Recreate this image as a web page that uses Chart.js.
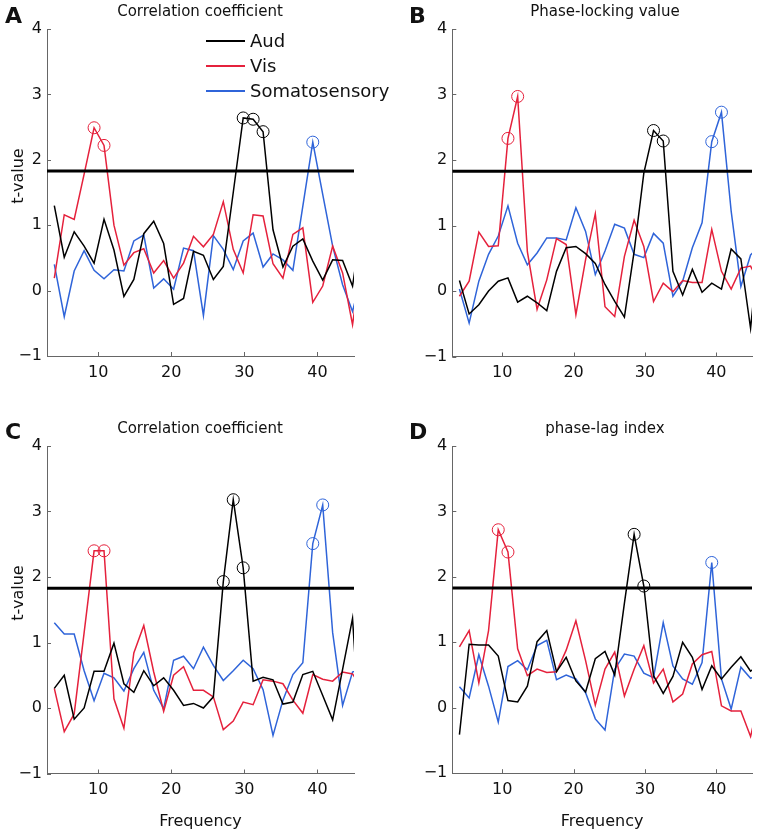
<!DOCTYPE html>
<html>
<head>
<meta charset="utf-8">
<script src="https://cdn.jsdelivr.net/npm/chart.js@4.4.0/dist/chart.umd.min.js"></script>
<style>
body { margin: 0; background: #fff; }
#page { position: relative; width: 759px; height: 835px; overflow: hidden; font-family: "DejaVu Sans", sans-serif; color: #111; }
.pane { position: absolute; }
.txt { position: absolute; white-space: nowrap; line-height: 1; }
.letter { font-weight: bold; font-size: 22px; }
.title { font-size: 15px; width: 300px; text-align: center; }
.ylab { font-size: 16px; transform: translate(-50%, -50%) rotate(-90deg); }
.leg { position: absolute; left: 206px; font-size: 18px; line-height: 1; white-space: nowrap; }
.leg span { display: inline-block; width: 39px; height: 2px; vertical-align: middle; margin-right: 5px; position: relative; top: -1px; }
</style>
</head>
<body>
<div id="page">
  <div class="pane" style="left:0;top:0"><canvas id="chartA" width="400" height="415"></canvas></div>
  <div class="pane" style="left:400px;top:0"><canvas id="chartB" width="359" height="415"></canvas></div>
  <div class="pane" style="left:0;top:415px"><canvas id="chartC" width="400" height="420"></canvas></div>
  <div class="pane" style="left:400px;top:415px"><canvas id="chartD" width="359" height="420"></canvas></div>

  <div class="txt letter" style="left:5px;top:5px">A</div>
  <div class="txt letter" style="left:409px;top:5px">B</div>
  <div class="txt letter" style="left:5px;top:421px">C</div>
  <div class="txt letter" style="left:409px;top:421px">D</div>

  <div class="txt title" style="left:50px;top:4px">Correlation coefficient</div>
  <div class="txt title" style="left:455px;top:4px">Phase-locking value</div>
  <div class="txt title" style="left:50px;top:421px">Correlation coefficient</div>
  <div class="txt title" style="left:455px;top:421px">phase-lag index</div>

  <div class="txt ylab" style="left:18px;top:176px">t-value</div>
  <div class="txt ylab" style="left:18px;top:593px">t-value</div>

  <div class="leg" style="top:32px"><span style="background:#000"></span>Aud</div>
  <div class="leg" style="top:57px"><span style="background:#e5213c"></span>Vis</div>
  <div class="leg" style="top:82px"><span style="background:#2f64d9"></span>Somatosensory</div>
</div>
<script>
// frequency of each bin (Hz); the last bin lies past the axis end and is clipped
var freqs = [4.00, 5.36, 6.72, 8.08, 9.44, 10.80, 12.16, 13.52, 14.88, 16.24, 17.60, 18.96, 20.32, 21.68, 23.04, 24.40,
             25.76, 27.12, 28.48, 29.84, 31.20, 32.56, 33.92, 35.28, 36.64, 38.00, 39.36, 40.72, 42.08, 43.44, 44.80, 46.16];
var xTicks = [10, 20, 30, 40];
var yTicks = [-1, 0, 1, 2, 3, 4];
var threshold = 1.83;

// A - correlation coefficient
var audA = [1.30, 0.51, 0.90, 0.68, 0.42, 1.09, 0.62, -0.09, 0.17, 0.87, 1.06, 0.72, -0.21, -0.12, 0.60, 0.54,
            0.17, 0.37, 1.50, 2.64, 2.62, 2.43, 0.93, 0.36, 0.68, 0.79, 0.45, 0.16, 0.47, 0.46, 0.07, 1.10];
var visA = [0.19, 1.16, 1.09, 1.78, 2.49, 2.22, 1.00, 0.39, 0.58, 0.64, 0.27, 0.46, 0.19, 0.42, 0.83, 0.67,
            0.86, 1.36, 0.63, 0.27, 1.16, 1.14, 0.41, 0.19, 0.86, 0.96, -0.18, 0.07, 0.68, 0.27, -0.52, 0.55];
var somA = [0.40, -0.40, 0.30, 0.61, 0.31, 0.18, 0.32, 0.30, 0.76, 0.85, 0.04, 0.18, 0.02, 0.65, 0.61, -0.38,
            0.84, 0.63, 0.32, 0.76, 0.88, 0.36, 0.56, 0.47, 0.31, 1.29, 2.27, 1.47, 0.68, 0.09, -0.32, 0.30];
var audSigA = [19, 20, 21], visSigA = [4, 5], somSigA = [26];

// B - phase-locking value
var audB = [0.16, -0.35, -0.21, 0.00, 0.15, 0.20, -0.17, -0.08, -0.18, -0.30, 0.30, 0.66, 0.68, 0.57, 0.42, 0.10,
            -0.16, -0.40, 0.60, 1.80, 2.45, 2.29, 0.30, -0.06, 0.33, -0.02, 0.12, 0.03, 0.64, 0.49, -0.57, 0.90];
var visB = [-0.08, 0.15, 0.90, 0.68, 0.69, 2.33, 2.97, 0.60, -0.28, 0.17, 0.80, 0.71, -0.36, 0.48, 1.18, -0.24,
            -0.39, 0.53, 1.08, 0.68, -0.16, 0.12, -0.01, 0.16, 0.13, 0.13, 0.94, 0.30, 0.03, 0.35, 0.38, 0.10];
var somB = [0.03, -0.49, 0.15, 0.56, 0.84, 1.30, 0.73, 0.40, 0.58, 0.81, 0.81, 0.78, 1.27, 0.91, 0.25, 0.61,
            1.02, 0.96, 0.56, 0.51, 0.88, 0.73, -0.08, 0.15, 0.66, 1.04, 2.28, 2.73, 1.22, 0.07, 0.55, 0.70];
var audSigB = [20, 21], visSigB = [5, 6], somSigB = [26, 27];

// C - correlation coefficient
var audC = [0.30, 0.50, -0.17, 0.00, 0.56, 0.56, 0.99, 0.37, 0.24, 0.57, 0.34, 0.46, 0.27, 0.04, 0.07, 0.00,
            0.17, 1.93, 3.18, 2.14, 0.41, 0.47, 0.43, 0.06, 0.09, 0.51, 0.56, 0.19, -0.18, 0.59, 1.37, -1.00];
var visC = [0.30, -0.36, -0.09, 1.15, 2.40, 2.40, 0.14, -0.31, 0.84, 1.26, 0.55, -0.05, 0.50, 0.63, 0.27, 0.27,
            0.17, -0.33, -0.20, 0.09, 0.05, 0.43, 0.41, 0.37, 0.12, -0.08, 0.51, 0.44, 0.41, 0.55, 0.52, 0.30];
var somC = [1.30, 1.13, 1.13, 0.57, 0.11, 0.53, 0.46, 0.26, 0.60, 0.85, 0.27, -0.01, 0.73, 0.79, 0.60, 0.93,
            0.65, 0.42, 0.57, 0.73, 0.60, 0.28, -0.42, 0.12, 0.51, 0.69, 2.51, 3.10, 1.15, 0.04, 0.55, 0.60];
var audSigC = [17, 18, 19], visSigC = [4, 5], somSigC = [26, 27];

// D - phase-lag index
var audD = [-0.41, 0.97, 0.96, 0.96, 0.79, 0.11, 0.09, 0.33, 1.01, 1.18, 0.55, 0.77, 0.41, 0.24, 0.75, 0.86,
            0.50, 1.60, 2.65, 1.86, 0.49, 0.22, 0.48, 1.00, 0.77, 0.28, 0.64, 0.44, 0.62, 0.78, 0.56, 0.65];
var visD = [0.93, 1.18, 0.38, 1.18, 2.72, 2.38, 0.90, 0.49, 0.59, 0.54, 0.55, 0.88, 1.33, 0.72, 0.04, 0.59,
            0.85, 0.18, 0.59, 0.95, 0.38, 0.59, 0.09, 0.21, 0.67, 0.81, 0.86, 0.03, -0.05, -0.05, -0.44, 0.20];
var somD = [0.32, 0.15, 0.81, 0.33, -0.22, 0.63, 0.72, 0.58, 0.95, 1.03, 0.43, 0.50, 0.44, 0.23, -0.17, -0.34,
            0.59, 0.82, 0.79, 0.53, 0.46, 1.30, 0.64, 0.44, 0.36, 0.69, 2.22, 0.44, -0.02, 0.62, 0.45, 0.52];
var audSigD = [18, 19], visSigD = [4, 5], somSigD = [26];

var colAud = '#000000', colVis = '#e5213c', colSom = '#2f64d9';
var axisCol = '#666666';
var fontFam = '"DejaVu Sans", sans-serif';

function lineSet(vals, color) {
    return {
        type: 'line',
        data: vals.map(function (v, i) { return {x: freqs[i], y: v}; }),
        borderColor: color,
        borderWidth: 1.5,
        pointRadius: 0,
        tension: 0,
        fill: false
    };
}

function sigSet(vals, idx, color) {
    return {
        type: 'scatter',
        data: idx.map(function (i) { return {x: freqs[i], y: vals[i]}; }),
        showLine: false,
        pointStyle: 'circle',
        pointRadius: 6,
        pointHoverRadius: 6,
        borderColor: color,
        borderWidth: 1,
        backgroundColor: 'rgba(0,0,0,0)'
    };
}

function threshSet() {
    return {
        type: 'line',
        data: [{x: 3, y: threshold}, {x: 45, y: threshold}],
        borderColor: '#000',
        borderWidth: 3,
        pointRadius: 0
    };
}

function fmt(v) {
    return v < 0 ? '\u2212' + Math.abs(v) : String(v);
}

// matlab style ticks pointing into the plot
var innerTicks = {
    id: 'innerTicks',
    afterDraw: function (chart) {
        var ctx = chart.ctx, a = chart.chartArea, x = chart.scales.x, y = chart.scales.y;
        ctx.save();
        ctx.strokeStyle = axisCol;
        ctx.lineWidth = 1;
        ctx.beginPath();
        xTicks.forEach(function (v) {
            var px = Math.round(x.getPixelForValue(v)) + 0.5;
            ctx.moveTo(px, a.bottom);
            ctx.lineTo(px, a.bottom - 4);
        });
        yTicks.forEach(function (v) {
            var py = Math.round(y.getPixelForValue(v)) + 0.5;
            ctx.moveTo(a.left, py);
            ctx.lineTo(a.left + 4, py);
        });
        ctx.stroke();
        ctx.restore();
    }
};

function makeChart(id, aud, vis, som, audSig, visSig, somSig, box) {
    var ctx = document.getElementById(id).getContext('2d');
    return new Chart(ctx, {
        type: 'line',
        data: {
            datasets: [
                threshSet(),
                lineSet(aud, colAud),
                lineSet(vis, colVis),
                lineSet(som, colSom),
                sigSet(aud, audSig, colAud),
                sigSet(vis, visSig, colVis),
                sigSet(som, somSig, colSom)
            ]
        },
        options: {
            responsive: false,
            animation: false,
            events: [],
            layout: {padding: {left: 0, top: box.top, right: box.right, bottom: 0}},
            plugins: {legend: {display: false}, title: {display: false}, tooltip: {enabled: false}},
            scales: {
                x: {
                    type: 'linear',
                    min: 3,
                    max: 45,
                    afterBuildTicks: function (s) { s.ticks = xTicks.map(function (v) { return {value: v}; }); },
                    afterFit: function (s) { s.height = box.xh; },
                    grid: {display: false, drawTicks: false},
                    border: {display: true, color: axisCol, width: 1},
                    ticks: {color: '#111', font: {family: fontFam, size: 16}, padding: 7, maxRotation: 0, callback: fmt},
                    title: {display: box.xtitle, text: 'Frequency', color: '#111', font: {family: fontFam, size: 16}, padding: {top: 0, bottom: 4}}
                },
                y: {
                    type: 'linear',
                    min: -1,
                    max: 4,
                    afterBuildTicks: function (s) { s.ticks = yTicks.map(function (v) { return {value: v}; }); },
                    afterFit: function (s) { s.width = box.yw; },
                    grid: {display: false, drawTicks: false},
                    border: {display: true, color: axisCol, width: 1},
                    ticks: {color: '#111', font: {family: fontFam, size: 16}, padding: 5, callback: fmt}
                }
            }
        },
        plugins: [innerTicks]
    });
}

makeChart('chartA', audA, visA, somA, audSigA, visSigA, somSigA, {top: 29, right: 46, xh: 59, yw: 47, xtitle: false});
makeChart('chartB', audB, visB, somB, audSigB, visSigB, somSigB, {top: 29, right: 1, xh: 58.5, yw: 52.3, xtitle: false});
makeChart('chartC', audC, visC, somC, audSigC, visSigC, somSigC, {top: 31, right: 46, xh: 61.5, yw: 47, xtitle: true});
makeChart('chartD', audD, visD, somD, audSigD, visSigD, somSigD, {top: 31, right: 1, xh: 61.8, yw: 52.3, xtitle: true});
</script>
</body>
</html>
